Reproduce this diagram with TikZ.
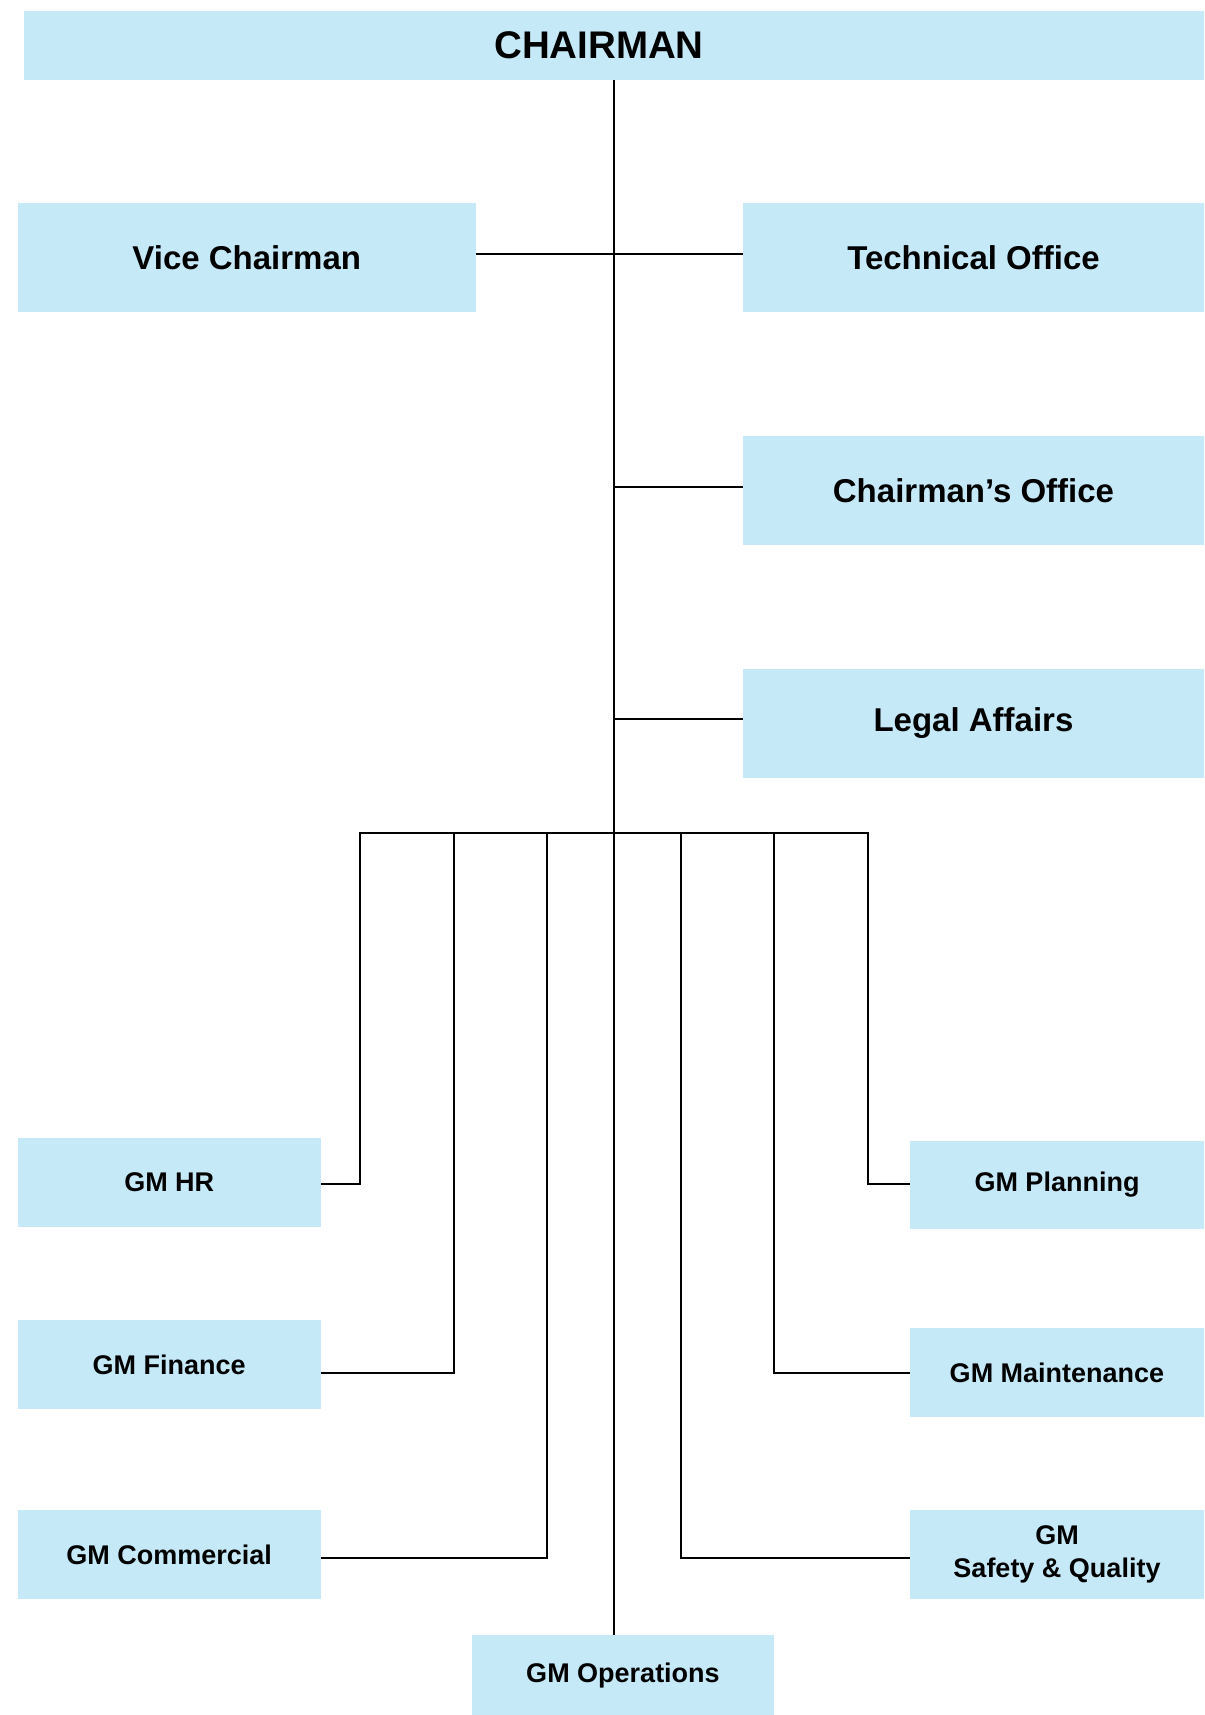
\documentclass[tikz,border=0pt]{standalone}
\usepackage{fontspec}
\setmainfont{Liberation Sans}
\definecolor{boxcolor}{HTML}{C6E9F8}

\begin{document}
\begin{tikzpicture}[x=1pt,y=-1pt,
  unit/.style={fill=boxcolor, inner sep=0pt, align=center},
  big/.style={font=\bfseries\fontsize{33}{40}\selectfont},
  small/.style={font=\bfseries\fontsize{27}{33}\selectfont},
  link/.style={line width=2pt}]
  \useasboundingbox (0,0) rectangle (1204,1715);
  % top of the chart
  \node[unit, minimum width=1180, minimum height=69, font=\bfseries\fontsize{38.5}{44}\selectfont] (chair) at (614,45.5) {\hspace*{-30pt}CHAIRMAN};
  % offices next to the chairman
  \node[unit, big, minimum width=458.5, minimum height=109] (vice) at (246.75,257.5) {Vice Chairman};
  \node[unit, big, minimum width=461, minimum height=109] (tech) at (973.5,257.5) {Technical Office};
  \node[unit, big, minimum width=461, minimum height=109] (coff) at (973.5,490.5) {Chairman’s Office};
  \node[unit, big, minimum width=461, minimum height=109] (legal) at (973.5,723.5) {Legal Affairs};
  % general managers, left side
  \node[unit, small, minimum width=303.5, minimum height=89] (hr) at (169.25,1182.5) {GM HR};
  \node[unit, small, minimum width=303.5, minimum height=89] (fin) at (169.25,1364.5) {GM Finance};
  \node[unit, small, minimum width=303.5, minimum height=89] (com) at (169.25,1554.5) {GM Commercial};
  % general managers, right side
  \node[unit, small, minimum width=294, minimum height=88] (plan) at (1057,1185) {GM Planning};
  \node[unit, small, minimum width=294, minimum height=89] (maint) at (1057,1372.5) {GM Maintenance};
  \node[unit, small, minimum width=294, minimum height=89] (safe) at (1057,1554.5) {GM\\Safety \& Quality};
  \node[unit, small, minimum width=302, minimum height=80] (ops) at (623,1675) {GM Operations};
  % trunk and office links
  \draw[link] (chair.south) -- (chair.south |- ops.north);
  \draw[link] ([yshift=3.5]vice.east) -- ([yshift=3.5]tech.west);
  \draw[link] ([yshift=3.5]coff.west) -- ([yshift=3.5]coff.west -| chair.south);
  \draw[link] ([yshift=4.5]legal.west) -- ([yshift=4.5]legal.west -| chair.south);
  % bus to the general managers
  \foreach \n/\x in {b1/360,b2/454,b3/547,b5/681,b6/774,b7/868}
    \coordinate (\n) at (\x,833);
  \draw[link] ([yshift=-1.5]hr.east) -| (b1) -- (b7) |- ([yshift=1]plan.west);
  \draw[link] (b2) |- ([yshift=-8.5]fin.east);
  \draw[link] (b3) |- ([yshift=-3.5]com.east);
  \draw[link] (b6) |- ([yshift=-0.5]maint.west);
  \draw[link] (b5) |- ([yshift=-3.5]safe.west);
\end{tikzpicture}
\end{document}
